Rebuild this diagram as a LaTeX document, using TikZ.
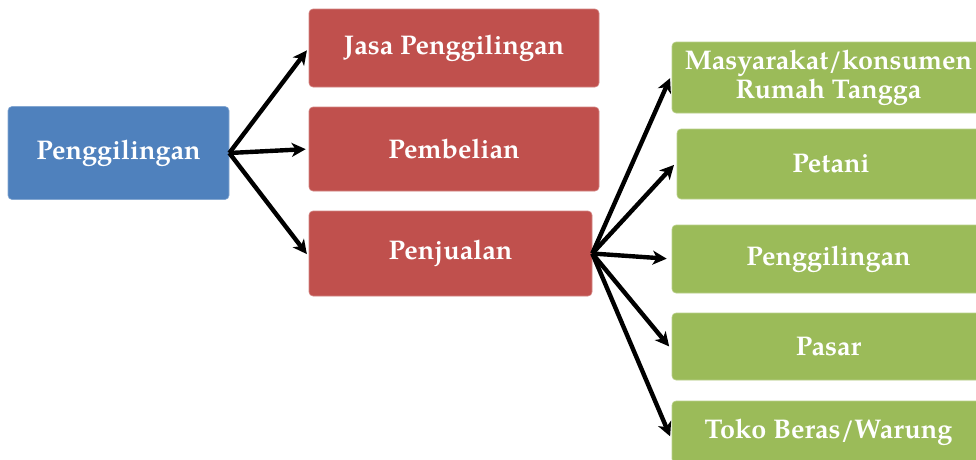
\documentclass[tikz,border=0pt]{standalone}
\usepackage{fontspec}
\setmainfont{texgyrepagella}[Extension=.otf, UprightFont=*-regular, BoldFont=*-bold]
\usetikzlibrary{arrows.meta}
\definecolor{cblue}{HTML}{4F81BD}
\definecolor{cred}{HTML}{C0504D}
\definecolor{cgreen}{HTML}{9BBB59}
\tikzset{
  box/.style={rectangle, rounded corners=4pt, inner sep=0pt, align=center, text=white,
    font=\fontsize{27}{29}\selectfont\bfseries},
  bluebox/.style={box, fill=cblue, draw=cblue!70!white, line width=0.6pt},
  redbox/.style={box, fill=cred, draw=cred!70!white, line width=0.6pt},
  greenbox/.style={box, fill=cgreen, draw=cgreen!70!white, line width=0.6pt},
  arr/.style={line width=4.4pt, -{Stealth[length=14pt,width=14pt,inset=4pt]}}
}
\begin{document}
\begin{tikzpicture}[x=1pt,y=-1pt]
\clip (0,0) rectangle (976,459);
\useasboundingbox (0,0) rectangle (976,459);
\node[bluebox, minimum width=221pt, minimum height=93pt] (b) at (118.5,153) {Penggilingan};
\node[redbox, minimum width=290pt, minimum height=78pt] (r1) at (454,48) {Jasa Penggilingan};
\node[redbox, minimum width=290pt, minimum height=84pt] (r2) at (454,149) {Pembelian};
\node[redbox, minimum width=283pt, minimum height=85pt] (r3) at (450.5,253.5) {Penjualan};
\node[greenbox, minimum width=313pt, minimum height=71pt] (g1) at (828.5,77.5) {Masyarakat/konsumen\\Rumah Tangga};
\node[greenbox, minimum width=308pt, minimum height=70pt] (g2) at (831,164) {Petani};
\node[greenbox, minimum width=313pt, minimum height=68pt] (g3) at (828.5,259) {Penggilingan};
\node[greenbox, minimum width=313pt, minimum height=67pt] (g4) at (828.5,346.5) {Pasar};
\node[greenbox, minimum width=313pt, minimum height=62pt] (g5) at (828.5,432) {Toko Beras/Warung};
\draw[arr, shorten >=3pt] (b.east) -- (r1.west);
\draw[arr, shorten >=3pt] (b.east) -- (r2.west);
\draw[arr, shorten >=3pt] (b.east) -- ([yshift=-3pt]r3.west);
\draw[arr, shorten >=4pt] (r3.east) -- ([yshift=3pt]g1.west);
\draw[arr, shorten >=4pt] (r3.east) -- ([yshift=2pt]g2.west);
\draw[arr, shorten >=5pt] (r3.east) -- (g3.west);
\draw[arr, shorten >=4pt] (r3.east) -- ([yshift=-3pt]g4.west);
\draw[arr, shorten >=4pt] (r3.east) -- ([yshift=-8pt]g5.west);
\end{tikzpicture}
\end{document}
